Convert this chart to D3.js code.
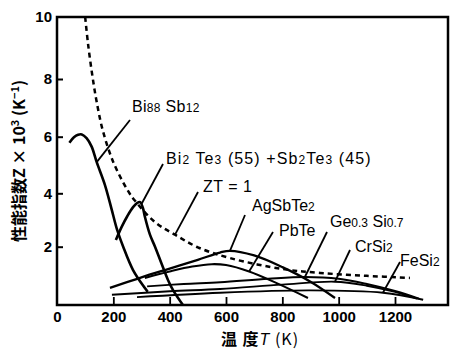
<!DOCTYPE html>
<html>
<head>
<meta charset="utf-8">
<script src="https://cdn.jsdelivr.net/npm/d3@7"></script>
<style>
  body { margin: 0; background: #fff; }
  svg { display: block; }
  .tick-label { font-family: "Liberation Sans", Arial, sans-serif; font-weight: bold; font-size: 15px; }
  .curve-label { font-family: "Liberation Sans", Arial, sans-serif; font-size: 16px; }
  .axis-title { font-family: "Noto Sans CJK JP", "Liberation Sans", sans-serif; font-size: 16px; font-weight: bold; }
</style>
</head>
<body>
<div class="chart"></div>
<script>
// Figure of merit Z vs temperature for thermoelectric materials

var svgWidth = 451;
var svgHeight = 351;

// tick values
var xTicks = [0, 200, 400, 600, 800, 1000, 1200];
var yTicks = [2, 4, 6, 8, 10];

// curves: temperature T (K) and Z x 10^3 (1/K)
var zt1T = [100, 110, 125, 141, 163, 200, 250, 277, 350, 419, 500, 614, 800, 934, 1100, 1253];
var zt1Z = [10, 9.15, 8.14, 7.2, 6.2, 5.1, 4.12, 3.72, 2.9, 2.45, 1.98, 1.61, 1.235, 1.1, 1.0, 0.93];

var biSbT = [44, 60, 75, 88, 105, 123, 141, 170, 194, 213, 235, 270, 312, 322];
var biSbZ = [5.79, 5.98, 6.07, 6.08, 5.95, 5.65, 5.1, 4.3, 3.4, 2.65, 2.0, 1.2, 0.58, 0.45];

var biTeT = [209, 230, 250, 270, 285, 295, 305, 312, 330, 348, 370, 394, 412, 447];
var biTeZ = [2.25, 2.75, 3.15, 3.48, 3.64, 3.67, 3.45, 3.12, 2.45, 2.0, 1.45, 0.86, 0.51, 0.0];

var agT = [188, 300, 400, 500, 579, 614, 700, 800, 900, 987];
var agZ = [0.59, 0.95, 1.25, 1.55, 1.8, 1.86, 1.7, 1.3, 0.8, 0.24];

var pbT = [312, 400, 480, 550, 600, 682, 780, 891];
var pbZ = [0.93, 1.15, 1.32, 1.4, 1.37, 1.15, 0.75, 0.24];

var geT = [320, 450, 580, 750, 880, 1000, 1100, 1200, 1285];
var geZ = [0.64, 0.72, 0.78, 0.9, 0.96, 0.9, 0.72, 0.48, 0.22];

var crT = [195, 400, 579, 800, 987, 1100, 1200, 1278];
var crZ = [0.35, 0.47, 0.55, 0.7, 0.8, 0.66, 0.45, 0.22];

var feT = [284, 579, 900, 1157, 1300];
var feZ = [0.27, 0.42, 0.5, 0.42, 0.18];

var svg = d3.select(".chart")
  .append("svg")
  .attr("width", svgWidth)
  .attr("height", svgHeight);

var xScale = d3.scaleLinear().domain([0, 1200]).range([57, 395]);
// the printed y axis is slightly uneven, so map each tick to where it sits
var yScale = d3.scaleLinear().domain([0, 2, 4, 6, 8, 10]).range([305, 246.7, 193.3, 136.7, 79, 17]);
var frameRight = 448;

function pts(ts, zs) {
  return ts.map((t, i) => [t, zs[i]]);
}

var line = d3.line()
  .x(d => xScale(d[0]))
  .y(d => yScale(d[1]))
  .curve(d3.curveCatmullRom.alpha(0.5));

// frame
svg.append("rect")
  .attr("x", xScale(0))
  .attr("y", yScale(10))
  .attr("width", frameRight - xScale(0))
  .attr("height", yScale(0) - yScale(10))
  .attr("fill", "none")
  .attr("stroke", "#000")
  .attr("stroke-width", 2.5);

// x axis ticks (inward) and labels
var xAxis = svg.append("g")
  .attr("transform", `translate(0, ${yScale(0)})`)
  .call(d3.axisBottom(xScale).tickValues(xTicks).tickFormat(d3.format("d")).tickSize(-8).tickPadding(6));
xAxis.select(".domain").remove();
xAxis.selectAll(".tick line").attr("stroke-width", 1.8).filter(d => d === 0).remove();
xAxis.selectAll("text").attr("class", "tick-label").attr("fill", "#000");

// y axis
var yAxis = svg.append("g")
  .attr("transform", `translate(${xScale(0)}, 0)`)
  .call(d3.axisLeft(yScale).tickValues(yTicks).tickFormat(d3.format("d")).tickSize(-6).tickPadding(5));
yAxis.select(".domain").remove();
yAxis.selectAll(".tick line").attr("stroke-width", 2).filter(d => d === 10).remove();
yAxis.selectAll("text").attr("class", "tick-label").attr("fill", "#000");

// curves
var series = [
  { d: pts(biSbT, biSbZ), w: 2.6 },
  { d: pts(biTeT, biTeZ), w: 2.6 },
  { d: pts(agT, agZ), w: 2.3 },
  { d: pts(pbT, pbZ), w: 2.1 },
  { d: pts(geT, geZ), w: 1.9 },
  { d: pts(crT, crZ), w: 1.9 },
  { d: pts(feT, feZ), w: 1.9 }
];

svg.selectAll("path.curve")
  .data(series)
  .enter()
  .append("path")
  .attr("class", "curve")
  .attr("d", s => line(s.d))
  .attr("fill", "none")
  .attr("stroke", "#000")
  .attr("stroke-width", s => s.w);

svg.append("path")
  .attr("d", line(pts(zt1T, zt1Z)))
  .attr("fill", "none")
  .attr("stroke", "#000")
  .attr("stroke-width", 2.5)
  .attr("stroke-dasharray", "5,4");

// labels with pointer lines
var labels = [
  { parts: [["Bi", 0], ["88", 1], [" Sb", 0], ["12", 1]], x: 132, y: 112, ls: 0.3, p0: [130, 120], t: [141, 5.1] },
  { parts: [["Bi", 0], ["2", 1], [" Te", 0], ["3", 1], [" (55) +Sb", 0], ["2", 1], ["Te", 0], ["3", 1], [" (45)", 0]], x: 166, y: 164, ls: 1.1, p0: [163, 164], t: [300, 3.6] },
  { parts: [["ZT = 1", 0]], x: 203, y: 192, ls: 0.5, p0: [198, 192], t: [419, 2.45] },
  { parts: [["AgSbTe", 0], ["2", 1]], x: 252, y: 211, ls: 0, p0: [245, 215], t: [614, 1.86] },
  { parts: [["PbTe", 0]], x: 279, y: 236, ls: 0, p0: [273, 232], t: [682, 1.15] },
  { parts: [["Ge", 0], ["0.3", 1], [" Si", 0], ["0.7", 1]], x: 330, y: 227, ls: 0, p0: [327, 232], t: [880, 0.96] },
  { parts: [["CrSi", 0], ["2", 1]], x: 355, y: 252, ls: 0, p0: [350, 250], t: [987, 0.8] },
  { parts: [["FeSi", 0], ["2", 1]], x: 400, y: 266, ls: 0, p0: [400, 262], t: [1157, 0.42] }
];

labels.forEach(function(l) {
  svg.append("line")
    .attr("x1", l.p0[0]).attr("y1", l.p0[1])
    .attr("x2", xScale(l.t[0])).attr("y2", yScale(l.t[1]))
    .attr("stroke", "#000")
    .attr("stroke-width", 1.8);
  var txt = svg.append("text")
    .attr("class", "curve-label")
    .attr("x", l.x)
    .attr("y", l.y)
    .attr("letter-spacing", l.ls);
  l.parts.forEach(function(p) {
    txt.append("tspan")
      .attr("font-size", p[1] ? "12px" : null)
      .text(p[0]);
  });
});

// axis titles
var yTitle = svg.append("text")
  .attr("class", "axis-title")
  .attr("transform", "translate(25, 161) rotate(-90)")
  .attr("text-anchor", "middle");
yTitle.append("tspan").text("性能指数Z × 10");
yTitle.append("tspan").attr("font-size", "11px").attr("dy", "-6").text("3");
yTitle.append("tspan").attr("dy", "6").text(" (K");
yTitle.append("tspan").attr("font-size", "11px").attr("dy", "-6").text("−1");
yTitle.append("tspan").attr("dy", "6").text(")");

var xTitle = svg.append("text")
  .attr("class", "axis-title")
  .attr("x", 260)
  .attr("y", 345)
  .attr("text-anchor", "middle")
  .attr("letter-spacing", 1);
xTitle.append("tspan").text("温 度");
xTitle.append("tspan").attr("font-style", "italic").attr("font-weight", "normal").attr("font-family", "Liberation Sans, sans-serif").text("T");
xTitle.append("tspan").attr("font-weight", "normal").text(" (K)");
</script>
</body>
</html>
